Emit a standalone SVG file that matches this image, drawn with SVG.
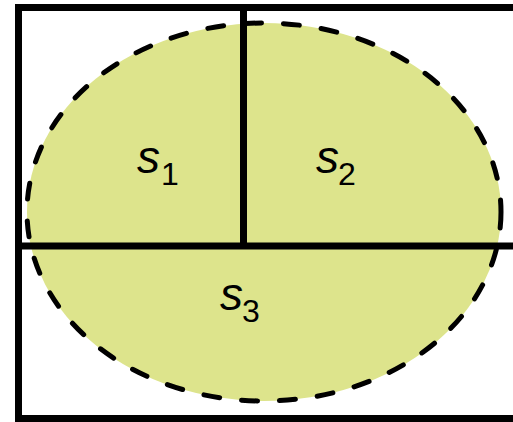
<svg xmlns="http://www.w3.org/2000/svg" width="513" height="422" viewBox="0 0 513 422">
<style>
.ln{stroke:#000;stroke-width:7;fill:none}
.lbl{font-family:"Liberation Sans",Arial,sans-serif;font-style:italic;font-size:46px;fill:#000}
.sub{font-style:normal;font-size:32px}
</style>
<rect width="513" height="422" fill="#fff"/>
<g id="set">
<ellipse cx="264" cy="212" rx="237" ry="189" fill="#dde48c"/>
</g>
<g id="frame">
<rect class="ln" x="18.5" y="7.5" width="510" height="411"/>
<line class="ln" x1="243.5" y1="7.5" x2="243.5" y2="246"/>
<line class="ln" x1="18.5" y1="246" x2="520" y2="246"/>
</g>
<g id="outline">
<ellipse cx="264" cy="212" rx="237" ry="189" fill="none" stroke="#000" stroke-width="5" stroke-dasharray="16 22" stroke-linecap="round"/>
</g>
<g id="labels">
<text class="lbl" x="137" y="173">s<tspan class="sub" x="161" y="185">1</tspan></text>
<text class="lbl" x="316" y="173">s<tspan class="sub" x="338" y="185">2</tspan></text>
<text class="lbl" x="220" y="310">s<tspan class="sub" x="242" y="322">3</tspan></text>
</g>
</svg>
